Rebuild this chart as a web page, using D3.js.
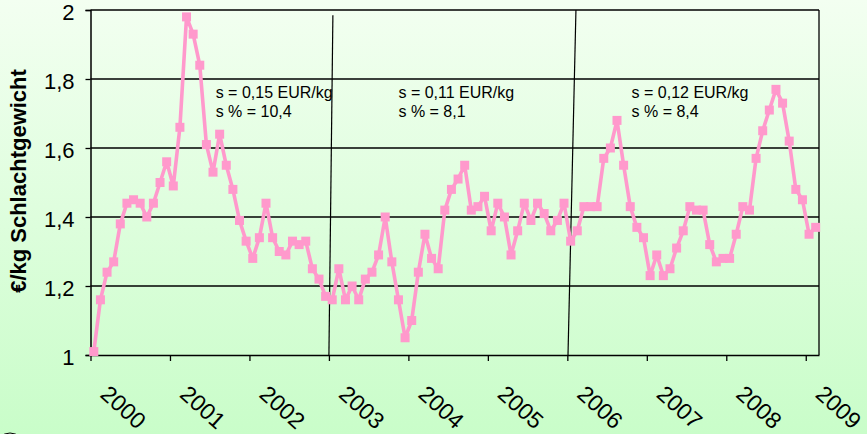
<!DOCTYPE html>
<html>
<head>
<meta charset="utf-8">
<script src="https://cdn.jsdelivr.net/npm/d3@7/dist/d3.min.js"></script>
<style>
  html, body { margin: 0; padding: 0; background: #e4fde0; }
  svg { display: block; }
  text { font-family: "Liberation Sans", Arial, sans-serif; fill: #000; }
</style>
</head>
<body>
<svg id="chart" width="867" height="434"></svg>
<script>
// ---------- data ----------
const yearLabels = ["2000","2001","2002","2003","2004","2005","2006","2007","2008","2009"];
// monthly prices, Jan 2000 – Feb 2009 (€/kg Schlachtgewicht)
const prices = [
  1.01, 1.16, 1.24, 1.27, 1.38, 1.44, 1.45, 1.44, 1.40, 1.44, 1.50, 1.56,
  1.49, 1.66, 1.98, 1.93, 1.84, 1.61, 1.53, 1.64, 1.55, 1.48, 1.39, 1.33,
  1.28, 1.34, 1.44, 1.34, 1.30, 1.29, 1.33, 1.32, 1.33, 1.25, 1.22, 1.17,
  1.16, 1.25, 1.16, 1.20, 1.16, 1.22, 1.24, 1.29, 1.40, 1.27, 1.16, 1.05,
  1.10, 1.24, 1.35, 1.28, 1.25, 1.42, 1.48, 1.51, 1.55, 1.42, 1.43, 1.46,
  1.36, 1.44, 1.40, 1.29, 1.36, 1.44, 1.39, 1.44, 1.41, 1.36, 1.39, 1.44,
  1.33, 1.36, 1.43, 1.43, 1.43, 1.57, 1.60, 1.68, 1.55, 1.43, 1.37, 1.34,
  1.23, 1.29, 1.23, 1.25, 1.31, 1.36, 1.43, 1.42, 1.42, 1.32, 1.27, 1.28,
  1.28, 1.35, 1.43, 1.42, 1.57, 1.65, 1.71, 1.77, 1.73, 1.62, 1.48, 1.45,
  1.35, 1.37
];
const yTickValues = [1, 1.2, 1.4, 1.6, 1.8, 2];
const yTickLabels = ["1", "1,2", "1,4", "1,6", "1,8", "2"];
const periodBreaks = [36, 72];            // month index where a new period starts
const periodStatLine1 = ["s = 0,15 EUR/kg", "s = 0,11 EUR/kg", "s = 0,12 EUR/kg"];
const periodStatLine2 = ["s % = 10,4", "s % = 8,1", "s % = 8,4"];
const yAxisTitle = "€/kg Schlachtgewicht";

// ---------- layout ----------
const W = 867, H = 434;
const plot = { left: 90.5, right: 819, top: 10, bottom: 355 };
const svg = d3.select("#chart");

// background gradient
const defs = svg.append("defs");
const grad = defs.append("linearGradient").attr("id", "bg")
  .attr("x1", 0).attr("y1", 0).attr("x2", 0).attr("y2", 1);
grad.append("stop").attr("offset", "0%").attr("stop-color", "#f3fff1");
grad.append("stop").attr("offset", "100%").attr("stop-color", "#c9fdc9");
svg.append("rect").attr("width", W).attr("height", H).attr("fill", "url(#bg)");

const x = d3.scaleLinear().domain([0, prices.length]).range([plot.left, plot.right]);
const y = d3.scaleLinear().domain([1, 2]).range([plot.bottom, plot.top]);

// gridlines
svg.append("g").selectAll("line").data(yTickValues.filter(v => v > 1)).join("line")
  .attr("x1", plot.left).attr("x2", plot.right)
  .attr("y1", d => y(d)).attr("y2", d => y(d))
  .attr("stroke", "#000").attr("stroke-width", 1.3);
// right border
svg.append("line").attr("x1", plot.right).attr("x2", plot.right)
  .attr("y1", plot.top).attr("y2", plot.bottom)
  .attr("stroke", "#000").attr("stroke-width", 1.3);

// y axis
const yAxis = d3.axisLeft(y).tickValues(yTickValues)
  .tickFormat((d, i) => yTickLabels[i]).tickSize(5).tickPadding(11);
const gy = svg.append("g").attr("transform", `translate(${plot.left},0)`).call(yAxis);
gy.select(".domain").attr("stroke", "#000").attr("stroke-width", 1.5);
gy.selectAll(".tick line").attr("stroke", "#000").attr("stroke-width", 1.3);
gy.selectAll(".tick text").attr("font-size", 22).attr("dy", "0.42em")
  .style("font-family", "'Liberation Sans', Arial, sans-serif");

// x axis (year ticks every 12 months)
const yearIdx = yearLabels.map((_, i) => i * 12);
const xAxis = d3.axisBottom(x).tickValues(yearIdx)
  .tickFormat((d, i) => yearLabels[i]).tickSize(6).tickSizeOuter(0);
const gx = svg.append("g").attr("transform", `translate(0,${plot.bottom})`).call(xAxis);
gx.select(".domain").attr("stroke", "#000").attr("stroke-width", 1.5);
gx.selectAll(".tick line").attr("stroke", "#000").attr("stroke-width", 1.3);
gx.selectAll(".tick text")
  .attr("font-size", 23)
  .attr("text-anchor", "start")
  .attr("x", 0).attr("y", 0).attr("dy", 0)
  .attr("transform", "translate(8,41) rotate(42)")
  .style("font-family", "'Liberation Sans', Arial, sans-serif");

// period divider lines (slightly slanted, as in the original)
const dividerTopShift = [0.6, 1.3];
const dividerTopValue = [1.985, 2];
const dividerBottomShift = [0, 0.1];
svg.append("g").selectAll("line").data(periodBreaks).join("line")
  .attr("x1", (d, i) => x(d + dividerTopShift[i]))
  .attr("y1", (d, i) => y(dividerTopValue[i]))
  .attr("x2", (d, i) => x(d + dividerBottomShift[i]))
  .attr("y2", y(1))
  .attr("stroke", "#000").attr("stroke-width", 1.2);

// data line
const line = d3.line().x((d, i) => x(i + 0.5)).y(d => y(d));
svg.append("path").datum(prices).attr("d", line)
  .attr("fill", "none").attr("stroke", "#ff99cc").attr("stroke-width", 3.6)
  .attr("stroke-linejoin", "round");
svg.append("g").selectAll("rect").data(prices).join("rect")
  .attr("x", (d, i) => x(i + 0.5) - 4.5).attr("y", d => y(d) - 4.5)
  .attr("width", 9).attr("height", 9).attr("fill", "#ff99cc");

// period statistics annotations
const annIdx = [18.9, 46.5, 81.7];
const annVal = 1.745;
const ann = svg.append("g");
periodStatLine1.forEach((t, i) => {
  const tx = ann.append("text").attr("x", x(annIdx[i])).attr("y", y(annVal))
    .attr("font-size", 16);
  tx.append("tspan").attr("x", x(annIdx[i])).text(t);
  tx.append("tspan").attr("x", x(annIdx[i])).attr("dy", 19).text(periodStatLine2[i]);
});

// y-axis title
svg.append("text")
  .attr("transform", "translate(26,181) rotate(-90)")
  .attr("text-anchor", "middle")
  .attr("font-size", 22).attr("font-weight", "bold")
  .text(yAxisTitle);

// partial logo mark in the corner
svg.append("circle").attr("cx", 10).attr("cy", 447).attr("r", 14)
  .attr("fill", "none").attr("stroke", "#000").attr("stroke-width", 1);
</script>
</body>
</html>
